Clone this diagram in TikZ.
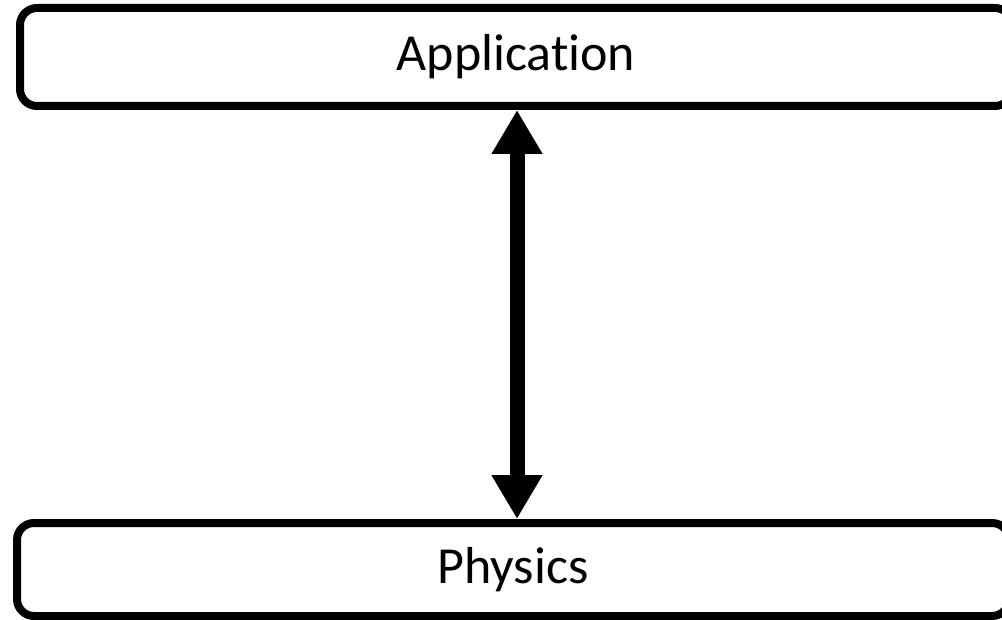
\documentclass[tikz,border=0pt]{standalone}
\usepackage{fontspec}
\setmainfont{Carlito}[Ligatures=CommonOff]
\usetikzlibrary{arrows.meta}

\tikzset{
  layer/.style={draw, line width=8pt, rounded corners=17pt, minimum width=992pt,
    font=\fontsize{52}{60}\selectfont},
}

\begin{document}
\begin{tikzpicture}[x=1pt,y=-1pt]
\clip (0,0) rectangle (1002,620);
\node[layer, minimum height=98pt] (app) at (516,57) {Application};
\node[layer, minimum height=93pt] (phys) at (513,569.5) {Physics};
\draw[{Triangle[width=48pt,length=44pt]}-{Triangle[width=48pt,length=44pt]}, line width=15pt]
  ([xshift=1pt]app.south) -- ([xshift=1pt]app.south |- phys.north);
\end{tikzpicture}
\end{document}
